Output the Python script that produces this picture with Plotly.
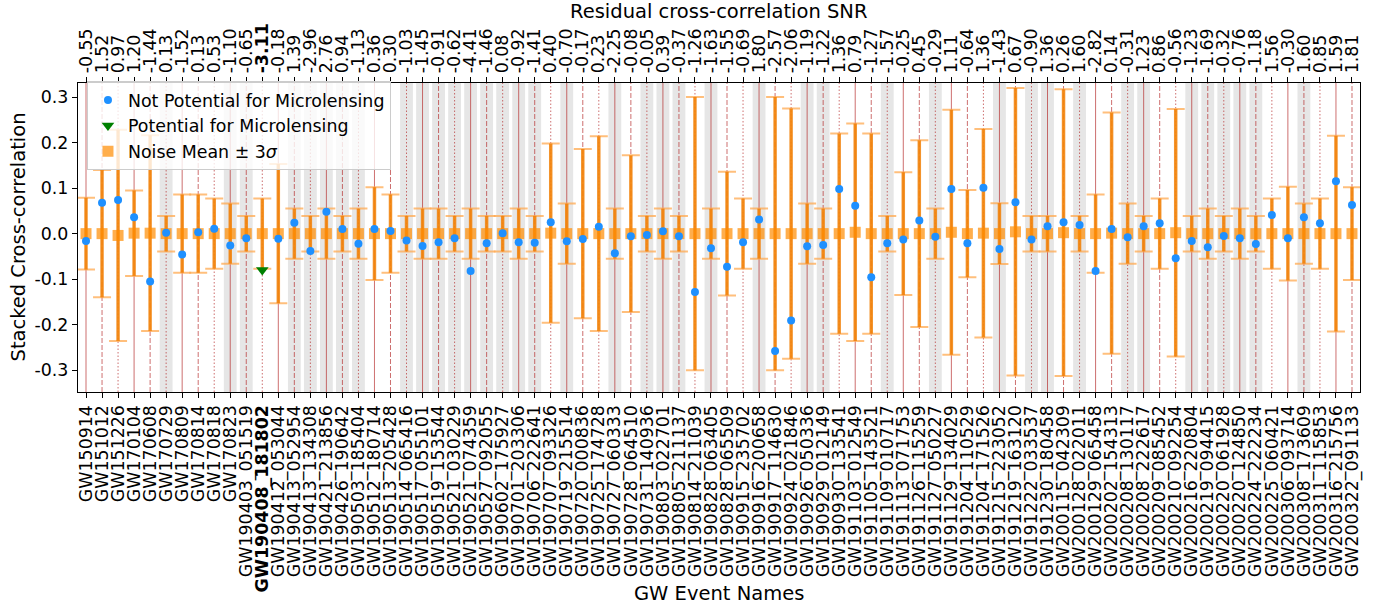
import plotly.graph_objects as go

events = [
    "GW150914", "GW151012", "GW151226", "GW170104", "GW170608", "GW170729", "GW170809", "GW170814",
    "GW170818", "GW170823", "GW190403_051519", "GW190408_181802", "GW190412_053044", "GW190413_052954",
    "GW190413_134308", "GW190421_213856", "GW190426_190642", "GW190503_185404", "GW190512_180714",
    "GW190513_205428", "GW190514_065416", "GW190517_055101", "GW190519_153544", "GW190521_030229",
    "GW190521_074359", "GW190527_092055", "GW190602_175927", "GW190701_203306", "GW190706_222641",
    "GW190707_093326", "GW190719_215514", "GW190720_000836", "GW190725_174728", "GW190727_060333",
    "GW190728_064510", "GW190731_140936", "GW190803_022701", "GW190805_211137", "GW190814_211039",
    "GW190828_063405", "GW190828_065509", "GW190915_235702", "GW190916_200658", "GW190917_114630",
    "GW190924_021846", "GW190926_050336", "GW190929_012149", "GW190930_133541", "GW191103_012549",
    "GW191105_143521", "GW191109_010717", "GW191113_071753", "GW191126_115259", "GW191127_050227",
    "GW191129_134029", "GW191204_110529", "GW191204_171526", "GW191215_223052", "GW191219_163120",
    "GW191222_033537", "GW191230_180458", "GW200115_042309", "GW200128_022011", "GW200129_065458",
    "GW200202_154313", "GW200208_130117", "GW200208_222617", "GW200209_085452", "GW200210_092254",
    "GW200216_220804", "GW200219_094415", "GW200220_061928", "GW200220_124850", "GW200224_222234",
    "GW200225_060421", "GW200306_093714", "GW200308_173609", "GW200311_115853", "GW200316_215756",
    "GW200322_091133",
]

snr_labels = [
    "-0.55", "1.52", "0.97", "1.20", "-1.44", "0.13", "-1.52", "0.13", "0.53", "-1.10",
    "-0.65", "-3.11", "-0.18", "1.39", "-2.96", "2.76", "0.94", "-1.13", "0.36", "0.30",
    "-1.03", "-1.45", "-0.91", "-0.62", "-4.41", "-1.46", "0.08", "-0.92", "-1.41", "0.40",
    "-0.70", "-0.17", "0.23", "-2.25", "-0.08", "-0.05", "0.39", "-0.37", "-1.26", "-1.63",
    "-1.55", "-0.69", "1.80", "-2.57", "-2.06", "-1.19", "-1.22", "1.36", "0.79", "-1.27",
    "-1.57", "-0.25", "0.45", "-0.29", "1.11", "-0.64", "1.36", "-1.43", "0.67", "-0.90",
    "1.36", "0.26", "1.60", "-2.82", "0.14", "-0.31", "1.23", "0.86", "-0.56", "-1.23",
    "-1.69", "-0.32", "-0.76", "-1.18", "1.56", "-0.30", "1.60", "0.85", "1.59", "1.81",
]

stacked_corr = [
    -0.016, 0.068, 0.074, 0.036, -0.105, 0.002, -0.046, 0.003, 0.011, -0.026,
    -0.010, -0.080, -0.011, 0.024, -0.038, 0.048, 0.010, -0.022, 0.010, 0.006,
    -0.015, -0.027, -0.019, -0.010, -0.082, -0.021, 0.001, -0.019, -0.020, 0.025,
    -0.017, -0.012, 0.015, -0.043, -0.006, -0.003, 0.005, -0.006, -0.128, -0.032,
    -0.073, -0.019, 0.031, -0.258, -0.191, -0.028, -0.025, 0.098, 0.061, -0.096,
    -0.021, -0.013, 0.029, -0.007, 0.098, -0.021, 0.101, -0.034, 0.069, -0.013,
    0.016, 0.025, 0.019, -0.082, 0.010, -0.008, 0.016, 0.023, -0.054, -0.016,
    -0.030, -0.005, -0.010, -0.023, 0.041, -0.010, 0.036, 0.023, 0.115, 0.063,
]

noise_mean = [
    0.000, 0.000, -0.004, 0.001, 0.001, 0.000, 0.000, 0.000, 0.000, 0.000,
    0.000, 0.000, 0.000, 0.000, 0.000, 0.000, 0.000, 0.000, 0.000, 0.000,
    0.000, 0.000, 0.000, 0.000, 0.000, 0.000, 0.000, 0.000, 0.000, 0.001,
    0.000, 0.000, 0.000, 0.000, 0.000, 0.000, 0.000, 0.000, 0.000, 0.000,
    0.000, 0.000, 0.000, 0.000, 0.000, 0.000, 0.000, 0.000, 0.003, 0.000,
    0.000, 0.000, 0.000, 0.000, 0.003, 0.000, 0.001, 0.000, 0.004, 0.000,
    0.000, 0.002, 0.000, 0.000, 0.001, 0.000, 0.000, 0.000, 0.002, 0.000,
    0.000, 0.000, 0.000, 0.000, 0.000, 0.000, 0.000, 0.000, 0.000, 0.000,
]

noise_3sigma = [
    0.079, 0.140, 0.232, 0.094, 0.215, 0.039, 0.086, 0.086, 0.077, 0.066,
    0.039, 0.077, 0.153, 0.055, 0.039, 0.055, 0.039, 0.055, 0.102, 0.086,
    0.039, 0.055, 0.055, 0.039, 0.055, 0.039, 0.039, 0.055, 0.039, 0.197,
    0.066, 0.186, 0.214, 0.055, 0.172, 0.039, 0.055, 0.039, 0.300, 0.055,
    0.136, 0.077, 0.055, 0.300, 0.275, 0.066, 0.055, 0.220, 0.239, 0.220,
    0.039, 0.135, 0.205, 0.055, 0.269, 0.096, 0.229, 0.067, 0.316, 0.039,
    0.039, 0.315, 0.039, 0.086, 0.265, 0.066, 0.039, 0.077, 0.272, 0.039,
    0.055, 0.039, 0.055, 0.039, 0.077, 0.103, 0.066, 0.077, 0.215, 0.102,
]

potential_events = ["GW190408_181802"]

shaded_events = [
    "GW170729", "GW170823", "GW190403_051519", "GW190413_052954", "GW190413_134308",
    "GW190421_213856", "GW190426_190642", "GW190503_185404", "GW190514_065416",
    "GW190517_055101", "GW190519_153544", "GW190521_030229", "GW190521_074359",
    "GW190527_092055", "GW190602_175927", "GW190701_203306", "GW190706_222641",
    "GW190719_215514", "GW190727_060333", "GW190731_140936", "GW190803_022701",
    "GW190805_211137", "GW190828_063405", "GW190916_200658", "GW190926_050336",
    "GW190929_012149", "GW191109_010717", "GW191127_050227", "GW191215_223052",
    "GW191222_033537", "GW191230_180458", "GW200128_022011", "GW200208_130117",
    "GW200208_222617", "GW200216_220804", "GW200219_094415", "GW200220_061928",
    "GW200220_124850", "GW200224_222234", "GW200308_173609",
]

line_styles = ["solid", "5px,2px", "1.5px,2px"]

FONT = "DejaVu Sans"
n = len(events)
idx = list(range(n))

bottom_text = [f"<b>{e}</b>" if e in potential_events else e for e in events]
top_text = [f"<b>{s}</b>" if e in potential_events else s for e, s in zip(events, snr_labels)]

fig = go.Figure()

# background shading and vertical event lines
shapes = []
for i, e in enumerate(events):
    if e in shaded_events:
        shapes.append(dict(type="rect", xref="x", yref="paper", x0=i - 0.4, x1=i + 0.4, y0=0, y1=1,
                           fillcolor="#e6e6e6", line=dict(width=0), layer="below"))
for i, e in enumerate(events):
    shapes.append(dict(type="line", xref="x", yref="paper", x0=i, x1=i, y0=0, y1=1,
                       line=dict(color="rgba(178,34,34,0.65)", width=1, dash=line_styles[i % 3]),
                       layer="below"))

# noise error bars: light caps
fig.add_trace(go.Scatter(
    x=idx, y=noise_mean, mode="markers",
    marker=dict(size=1, color="rgba(0,0,0,0)"),
    error_y=dict(type="data", array=noise_3sigma, color="rgba(255,170,80,0.75)", thickness=2, width=9),
    showlegend=False, hoverinfo="skip",
))
# noise error bars: darker bar + square marker
fig.add_trace(go.Scatter(
    x=idx, y=noise_mean, mode="markers",
    marker=dict(symbol="square", size=11, color="rgba(255,140,0,0.7)", line=dict(width=0)),
    error_y=dict(type="data", array=noise_3sigma, color="rgba(240,125,0,0.8)", thickness=3.5, width=0),
    name="Noise Mean \u00b1 3<i>\u03c3</i>", legendrank=3,
))

not_x = [i for i, e in enumerate(events) if e not in potential_events]
not_y = [stacked_corr[i] for i in not_x]
pot_x = [i for i, e in enumerate(events) if e in potential_events]
pot_y = [stacked_corr[i] for i in pot_x]

fig.add_trace(go.Scatter(
    x=not_x, y=not_y, mode="markers",
    marker=dict(symbol="circle", size=8, color="#1E90FF", line=dict(width=0)),
    name="Not Potential for Microlensing", legendrank=1,
))
fig.add_trace(go.Scatter(
    x=pot_x, y=pot_y, mode="markers",
    marker=dict(symbol="triangle-down", size=11, color="green", line=dict(width=0)),
    name="Potential for Microlensing", legendrank=2,
))
# invisible trace to activate top axis
fig.add_trace(go.Scatter(
    x=idx, y=stacked_corr, xaxis="x2", mode="markers",
    marker=dict(size=1, color="rgba(0,0,0,0)"), showlegend=False, hoverinfo="skip",
))

yticks = [-0.3, -0.2, -0.1, 0.0, 0.1, 0.2, 0.3]
ytext = [f"{v:.1f}" for v in yticks]

tickfont = dict(family=FONT, size=17.4, color="black")
common_x = dict(range=[-0.5, n - 0.5], tickmode="array", tickvals=idx, tickangle=-90,
                ticks="outside", ticklen=5, tickwidth=1, tickcolor="black",
                showgrid=False, zeroline=False, tickfont=tickfont, automargin=False)

fig.update_layout(
    template="none",
    width=1374, height=607,
    margin=dict(l=78, r=14, t=83, b=215, autoexpand=False),
    paper_bgcolor="white", plot_bgcolor="white",
    font=dict(family=FONT, color="black"),
    shapes=shapes,
    xaxis=dict(**common_x, ticktext=bottom_text, showline=True, linecolor="black", linewidth=1.3,
               mirror=True),
    xaxis2=dict(**common_x, ticktext=top_text, overlaying="x", side="top", anchor="y",
                showline=True, linecolor="black", linewidth=1.3),
    yaxis=dict(range=[-0.348, 0.331], tickmode="array", tickvals=yticks, ticktext=ytext,
               ticks="outside", ticklen=5, tickwidth=1, tickcolor="black",
               showline=True, linecolor="black", linewidth=1.3, mirror=True,
               showgrid=False, zeroline=False, tickfont=tickfont, automargin=False),
    legend=dict(x=0.007, y=1.006, xanchor="left", yanchor="top",
                bgcolor="rgba(255,255,255,0.8)", bordercolor="#cccccc", borderwidth=1,
                font=dict(family=FONT, size=17.4, color="black"), traceorder="normal"),
    annotations=[
        dict(text="Residual cross-correlation SNR", xref="paper", yref="paper", x=0.5,
             y=1 + (83 - 12) / 309, xanchor="center", yanchor="middle", showarrow=False,
             font=dict(family=FONT, size=19.5, color="black")),
        dict(text="GW Event Names", xref="paper", yref="paper", x=0.5, y=(392 - 593) / 309,
             xanchor="center", yanchor="middle", showarrow=False,
             font=dict(family=FONT, size=19.5, color="black")),
        dict(text="Stacked Cross-correlation", xref="paper", yref="paper", x=(18 - 78) / 1282, y=0.5,
             xanchor="center", yanchor="middle", textangle=-90, showarrow=False,
             font=dict(family=FONT, size=19.5, color="black")),
    ],
)

# remove the default page margin so the figure fills the window from its top-left corner
fig.write_html("out.html", config={"displayModeBar": False},
               post_script="document.body.style.margin='0px';")
